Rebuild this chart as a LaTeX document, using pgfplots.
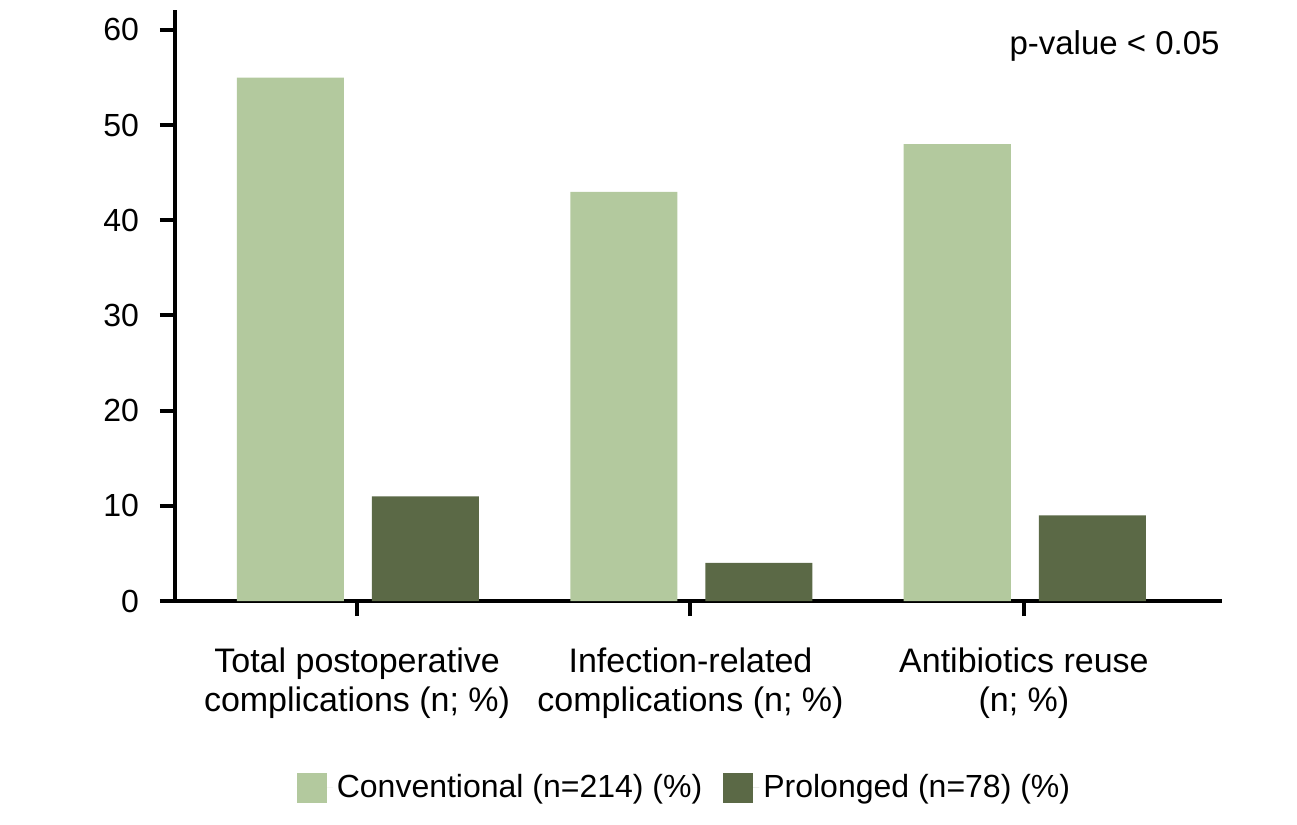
\documentclass[border=0pt]{standalone}
\usepackage{fontspec}
\setmainfont{Liberation Sans}
\usepackage{pgfplots}
\pgfplotsset{compat=1.18}
\definecolor{convgreen}{RGB}{179,201,158}
\definecolor{prolgreen}{RGB}{91,105,70}
\begin{document}
\begin{tikzpicture}
\begin{axis}[
    at={(0,0)}, anchor=south west,
    scale only axis,
    width=523.5pt, height=295.5pt,
    xmin=-0.546, xmax=2.594,
    ymin=0, ymax=62.1,
    axis x line=bottom, axis y line=left,
    axis line style={line width=2pt, -},
    tick align=outside,
    major tick length=7.5pt,
    tick style={line width=2pt, black},
    ytick={0,10,20,30,40,50,60},
    xtick={0,1,2},
    xticklabels={{Total postoperative\\complications (n; \%)},
                 {Infection-related\\complications (n; \%)},
                 {Antibiotics reuse\\(n; \%)}},
    xticklabel style={align=center, font=\fontsize{17}{19.5}\selectfont, yshift=-12.5pt},
    yticklabel style={font=\fontsize{16}{19}\selectfont, xshift=-7pt},
    /pgf/number format/assume math mode=true,
    ybar, bar width=0.321,
    legend columns=2,
    legend style={at={(0.5,-0.316)}, anchor=center, xshift=-6.5pt, draw=none,
        font=\fontsize{16}{19}\selectfont,
        /tikz/every even column/.append style={column sep=8.5pt}},
    legend image code/.code={\fill[#1] (0pt,-7.5pt) rectangle (15pt,7.5pt);
        \path (0pt,0pt) -- (18pt,0pt);},
]
\addplot[fill=convgreen, draw=none, bar shift=-0.2]
    coordinates {(0,55) (1,43) (2,48)};
\addplot[fill=prolgreen, draw=none, bar shift=0.205]
    coordinates {(0,11) (1,4) (2,9)};
\legend{Conventional (n=214) (\%), Prolonged (n=78) (\%)}
\node[anchor=north east, inner sep=0pt, font=\fontsize{16.5}{19}\selectfont]
    at (rel axis cs:1,1) [xshift=-1pt, yshift=-10pt] {p-value < 0.05};
\end{axis}
\pgfresetboundingbox
\useasboundingbox (-87.5pt,-112pt) rectangle (561pt,300.5pt);
\end{tikzpicture}
\end{document}
